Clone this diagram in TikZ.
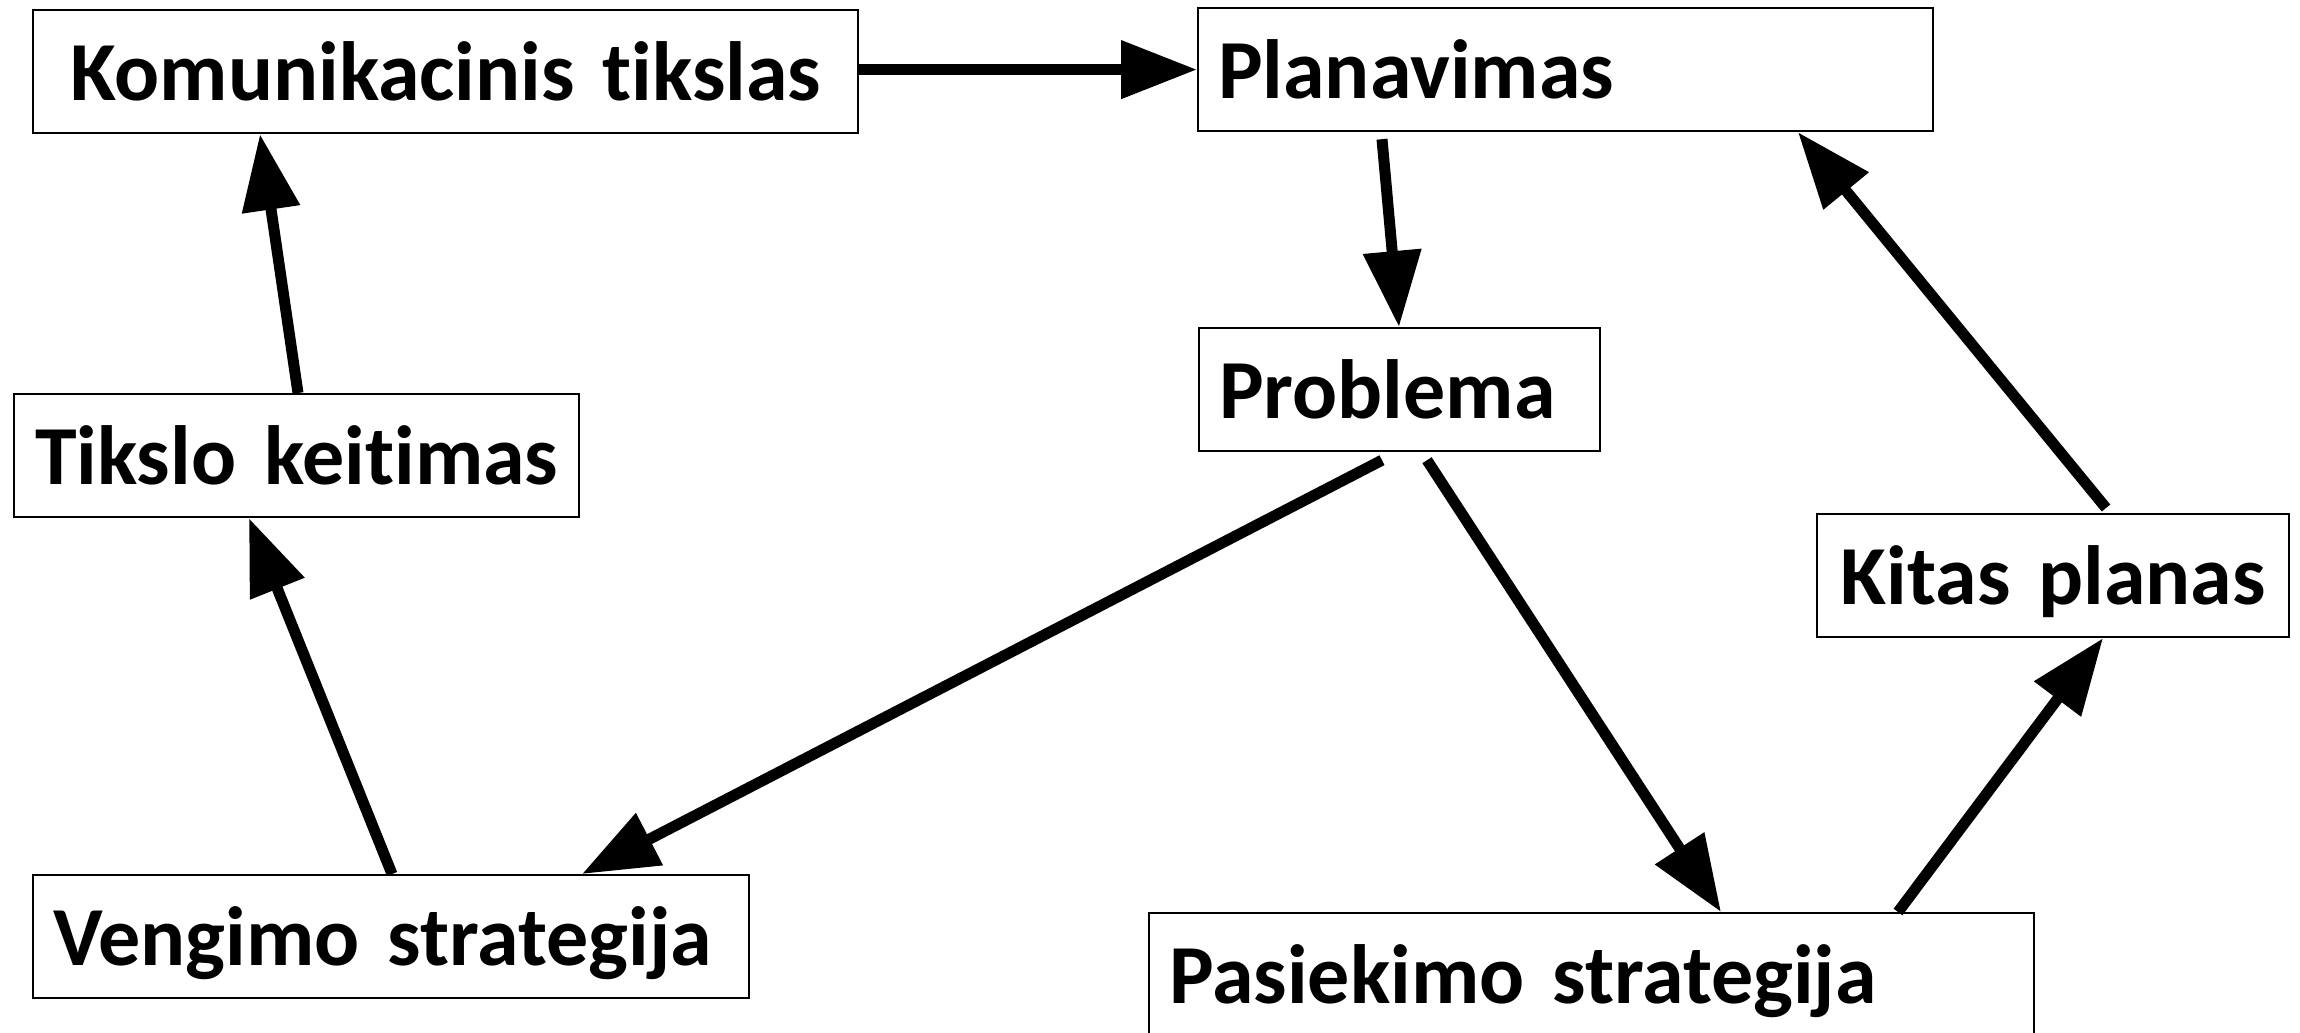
\documentclass[tikz,border=0pt]{standalone}
\usepackage{fontspec}
\setmainfont{Carlito}[Ligatures=NoCommon]
\usetikzlibrary{arrows.meta}
\tikzset{
  box/.style={draw, line width=2.2pt, anchor=north west, inner xsep=20pt, inner ysep=0pt,
    text height=90pt, text depth=33pt, align=left,
    font=\fontsize{84pt}{90pt}\selectfont\bfseries},
  arr/.style={line width=11pt, -{Triangle[length=76pt,width=56pt]}}
}
\begin{document}
\begin{tikzpicture}[x=1pt,y=-1pt]
\useasboundingbox (0,0) rectangle (2300,1033);
\node[box, text width=785pt, align=center] (kt) at (32,9) {\mbox{Komunikacinis tikslas}};
\node[box, text width=695pt] (pl) at (1197,7) {\mbox{Planavimas}};
\node[box, text width=361pt] (pr) at (1198,327) {\mbox{Problema}};
\node[box, text width=525pt, align=center] (tk) at (13,393) {\mbox{Tikslo keitimas}};
\node[box, text width=432pt, align=center] (kp) at (1816,513) {\mbox{Kitas planas}};
\node[box, text width=676pt] (vs) at (32,874) {\mbox{Vengimo strategija}};
\node[box, text width=845pt] (ps) at (1148,912) {\mbox{Pasiekimo strategija}};

\draw[arr] (kt.east |- pl.west) -- (pl.west);
\draw[arr] ([xshift=185pt,yshift=-7pt]pl.south west) -- ([xshift=201pt]pr.north west);
\draw[arr] ([xshift=184pt,yshift=-8pt]pr.south west) -- ([xshift=550pt]vs.north west);
\draw[arr] ([xshift=229pt,yshift=-8pt]pr.south west) -- ([xshift=573pt]ps.north west);
\draw[arr] ([xshift=750pt]ps.north west) -- ([xshift=287pt]kp.south west);
\draw[arr] ([xshift=290pt,yshift=5pt]kp.north west) -- ([xshift=601pt]pl.south west);
\draw[arr] ([xshift=360pt]vs.north west) -- ([xshift=236pt]tk.south west);
\draw[arr] ([xshift=285pt]tk.north west) -- ([xshift=228pt]kt.south west);
\end{tikzpicture}
\end{document}
